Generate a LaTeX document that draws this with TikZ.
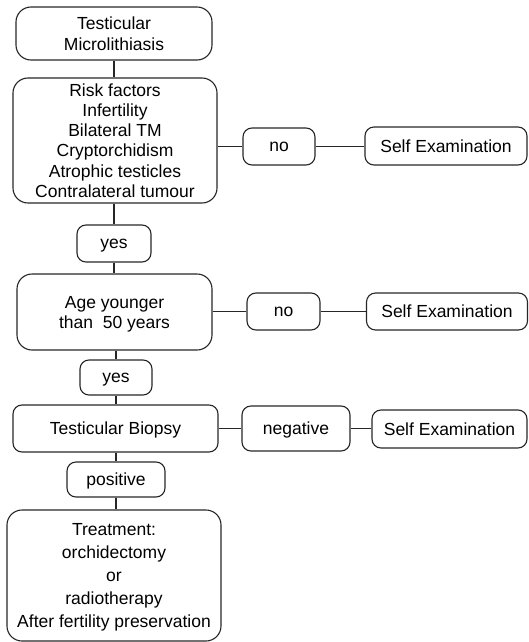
\documentclass[tikz,border=0pt]{standalone}
\usepackage{fontspec}
\setmainfont{Liberation Sans}
\begin{document}
\begin{tikzpicture}[x=1pt,y=-1pt,
  box/.style={draw=black!85, line width=1.1pt, rounded corners=9pt, align=center, inner sep=0pt,
    text depth=-2pt, font=\fontsize{17.5}{21}\selectfont},
  bigbox/.style={box, rounded corners=15pt},
  link/.style={draw=black!85, line width=1.1pt}]
\useasboundingbox (0,0) rectangle (528,642);
% main column
\node[bigbox, minimum width=196pt, minimum height=53pt] (tm) at (114,33.5) {Testicular\\Microlithiasis};
\node[bigbox, minimum width=204pt, minimum height=125pt, text depth=-6pt, font=\fontsize{17.5}{20.2}\selectfont] (risk) at (115,140.5)
  {Risk factors\\Infertility\\Bilateral TM\\Cryptorchidism\\Atrophic testicles\\Contralateral tumour};
\node[box, minimum width=74pt, minimum height=37pt] (yes1) at (114,243.5) {yes};
\node[bigbox, minimum width=195pt, minimum height=76pt, font=\fontsize{17.5}{20}\selectfont] (age) at (114.5,312) {Age younger\\than\ \ 50 years};
\node[box, minimum width=72pt, minimum height=35pt] (yes2) at (116,377.5) {yes};
\node[box, minimum width=205pt, minimum height=47pt] (biop) at (115.5,428.5) {Testicular Biopsy};
\node[box, minimum width=98pt, minimum height=35pt] (pos) at (116,479.5) {positive};
\node[bigbox, minimum width=214pt, minimum height=131pt, font=\fontsize{17.5}{23.2}\selectfont] (treat) at (114,575.5)
  {Treatment:\\orchidectomy\\or\\radiotherapy\\After fertility preservation};
% right side
\node[box, minimum width=72pt, minimum height=37pt] (no1) at (279,146.5) {no};
\node[box, minimum width=162pt, minimum height=38pt] (se1) at (446,146) {Self Examination};
\node[box, minimum width=73pt, minimum height=37pt] (no2) at (283.5,311.5) {no};
\node[box, minimum width=161pt, minimum height=37pt] (se2) at (447,311.5) {Self Examination};
\node[box, minimum width=108pt, minimum height=45pt] (neg) at (296,428.5) {negative};
\node[box, minimum width=155pt, minimum height=38pt] (se3) at (449.5,429) {Self Examination};
% vertical connectors
\draw[link] (tm.south) -- (tm.south |- risk.north);
\draw[link] (yes1.north |- risk.south) -- (yes1.north);
\draw[link] (yes1.south) -- (yes1.south |- age.north);
\draw[link] (yes2.north |- age.south) -- (yes2.north);
\draw[link] (yes2.south) -- (yes2.south |- biop.north);
\draw[link] (pos.north |- biop.south) -- (pos.north);
\draw[link] (pos.south) -- (pos.south |- treat.north);
% horizontal connectors
\draw[link] (risk.east |- no1.west) -- (no1.west);
\draw[link] (no1.east) -- (se1.west |- no1.east);
\draw[link] (age.east |- no2.west) -- (no2.west);
\draw[link] (no2.east) -- (se2.west |- no2.east);
\draw[link] (biop.east |- neg.west) -- (neg.west);
\draw[link] (neg.east) -- (se3.west |- neg.east);
\end{tikzpicture}
\end{document}
